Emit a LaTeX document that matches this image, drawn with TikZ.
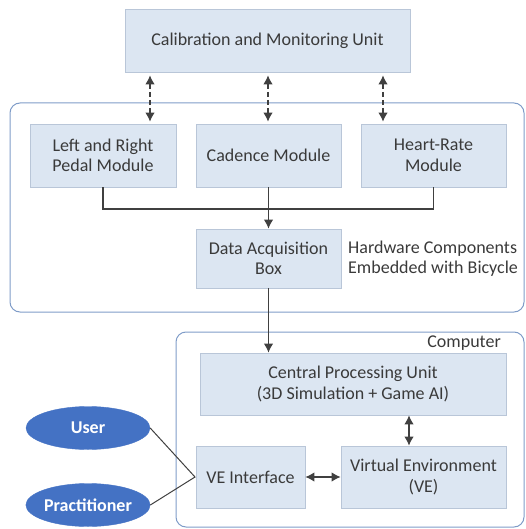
\documentclass[tikz,border=0pt]{standalone}
\usepackage{fontspec}
\setmainfont{Carlito}
\usetikzlibrary{arrows.meta,shapes.geometric,calc}
\definecolor{boxfill}{HTML}{DCE6F2}
\definecolor{boxline}{HTML}{B9C6D8}
\definecolor{contline}{HTML}{7F9CC8}
\definecolor{txt}{HTML}{3A3A3A}
\definecolor{lin}{HTML}{404040}
\definecolor{ellfill}{HTML}{4472C4}
\begin{document}
\begin{tikzpicture}[x=1pt,y=-1pt,
  font=\fontsize{18}{20.5}\selectfont,
  box/.style={draw=boxline,fill=boxfill,line width=0.8pt,text=txt,align=center,inner sep=0pt},
  cont/.style={draw=contline,line width=1pt,rounded corners=10pt},
  actor/.style={ellipse,fill=ellfill,draw=ellfill,text=white,font=\fontsize{18}{20.5}\selectfont\bfseries,minimum width=124pt,minimum height=43pt,inner sep=0pt},
  conn/.style={draw=lin,line width=1.2pt},
  tip/.style={-{Latex[length=9pt,width=9.5pt]}},
  dtip/.style={{Latex[length=9pt,width=9.5pt]}-{Latex[length=9pt,width=9.5pt]}},
  dashline/.style={dash pattern=on 5pt off 3pt}
]
\useasboundingbox (0,0) rectangle (526,529);
% containers
\draw[cont] (10,103) rectangle (524,312);
\draw[cont] (176,332) rectangle (524,527);
% nodes
\node[box,minimum width=285pt,minimum height=63pt] (cal) at (267.5,40.5) {Calibration and Monitoring Unit};
\node[box,minimum width=146pt,minimum height=63pt] (pedal) at (103,155.5) {Left and Right\\Pedal Module};
\node[box,minimum width=145pt,minimum height=63pt] (cad) at (268.5,155.5) {Cadence Module};
\node[box,minimum width=145pt,minimum height=63pt] (heart) at (433.5,155.5) {Heart-Rate\\Module};
\node[box,minimum width=145pt,minimum height=59pt] (daq) at (268.5,258.5) {Data Acquisition\\Box};
\node[text=txt,align=left,anchor=west,inner sep=0pt] (hwlabel) at (348,258.5) {Hardware Components\\Embedded with Bicycle};
\node[text=txt,anchor=east,inner sep=0pt] (complabel) at (501,343) {Computer};
\node[box,minimum width=306pt,minimum height=62pt] (cpu) at (353,384) {Central Processing Unit\\(3D Simulation + Game AI)};
\node[box,minimum width=109pt,minimum height=62pt] (vei) at (250.5,477) {VE Interface};
\node[box,minimum width=165pt,minimum height=62pt] (ve) at (423.5,477) {Virtual Environment\\(VE)};
\node[actor] (user) at (88,428) {User};
\node[actor] (prac) at (88,505) {Practitioner};
\coordinate (junc) at (195,477);
% dashed double arrows
\foreach \x/\n in {150/pedal,268/cad,383/heart}{
  \draw[conn,dashline,dtip,shorten <=3pt,shorten >=2pt] (cal.south -| \x,0) -- (\n.north -| \x,0);
}
% merge to DAQ
\draw[conn] (pedal.south) |- (0,209 -| heart.south) -- (heart.south);
\draw[conn,tip] (cad.south) -- (daq.north);
\draw[conn,tip] (daq.south) -- (daq.south |- cpu.north);
% CPU <-> VE
\draw[conn,dtip] (cpu.south -| 409,0) -- (ve.north -| 409,0);
\draw[conn,dtip] (vei.east) -- (ve.west);
% actors
\draw[draw=lin,line width=1pt] (user.east) -- (junc) -- (prac.east);
\end{tikzpicture}
\end{document}
